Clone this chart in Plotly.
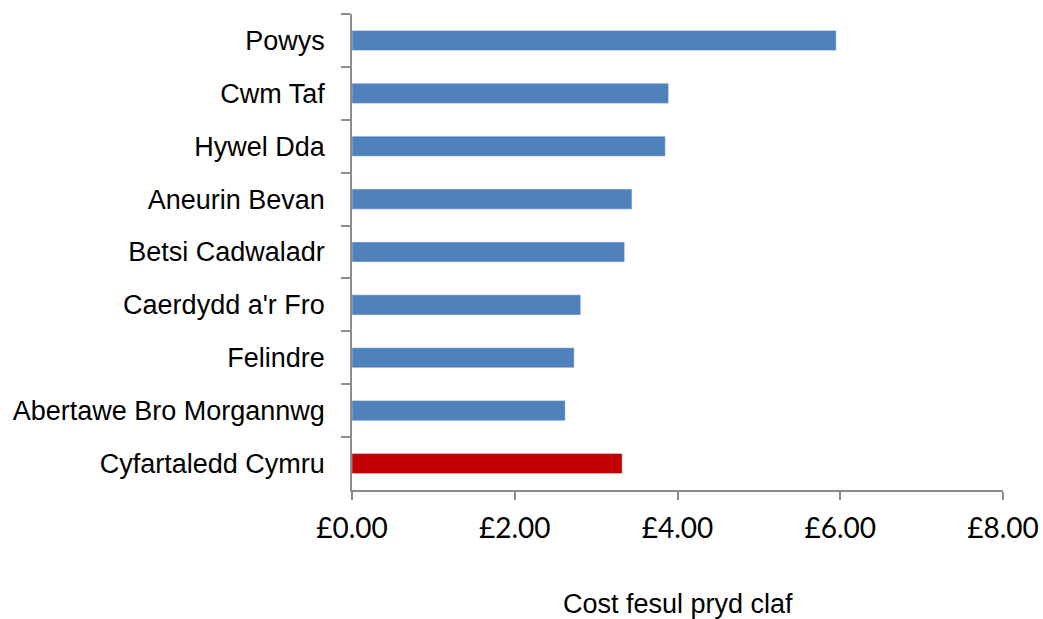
import plotly.graph_objects as go

categories = ["Powys", "Cwm Taf", "Hywel Dda", "Aneurin Bevan", "Betsi Cadwaladr",
              "Caerdydd a'r Fro", "Felindre", "Abertawe Bro Morgannwg", "Cyfartaledd Cymru"]
values = [5.95, 3.89, 3.85, 3.44, 3.35, 2.81, 2.73, 2.62, 3.32]
colors = ["#4F81BD"] * 8 + ["#C00000"]
tick_vals = [0, 2, 4, 6, 8]
tick_text = ["£0.00", "£2.00", "£4.00", "£6.00", "£8.00"]
x_title = "Cost fesul pryd claf"

fig = go.Figure(go.Bar(
    x=values, y=categories, orientation="h",
    marker=dict(color=colors, line=dict(color="rgba(255,255,255,0.4)", width=1)),
    width=0.38,
))

fig.update_layout(
    width=1043, height=619,
    margin=dict(l=352, r=40, t=14, b=129),
    paper_bgcolor="white", plot_bgcolor="white",
    showlegend=False,
)
fig.update_yaxes(
    autorange="reversed", type="category",
    showline=True, linecolor="#8c8c8c", linewidth=1.5,
    ticks="outside", ticklen=9, tickcolor="#8c8c8c", tickwidth=1.5,
    tickson="boundaries", showgrid=False, automargin=False,
    tickfont=dict(family="Liberation Sans, Arial", size=27, color="black"),
    ticklabelstandoff=20,
)
fig.update_xaxes(
    range=[0, 8], tickvals=tick_vals, ticktext=tick_text,
    showline=True, linecolor="#8c8c8c", linewidth=1.5,
    ticks="outside", ticklen=8, tickcolor="#8c8c8c", tickwidth=1.5,
    showgrid=False, zeroline=False, automargin=False,
    tickfont=dict(family="Lato, Open Sans", size=28, color="black"),
    ticklabelstandoff=5,
)
fig.add_annotation(
    text=x_title, xref="paper", yref="paper", x=0.5, y=-114 / 476,
    xanchor="center", yanchor="middle", showarrow=False,
    font=dict(family="Liberation Sans, Arial", size=27, color="black"),
)
fig.write_html("out.html", config={"displayModeBar": False},
               post_script="document.body.style.margin='0px';")
